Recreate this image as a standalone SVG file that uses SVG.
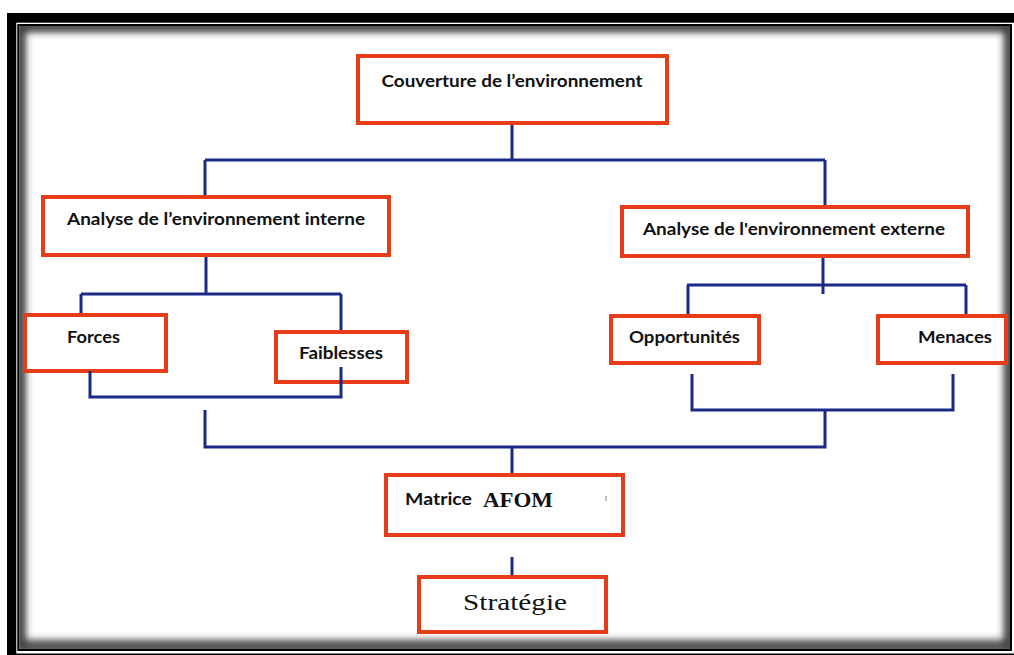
<svg xmlns="http://www.w3.org/2000/svg" width="1014" height="655" viewBox="0 0 1014 655">
  <defs>
    <style>
      .box { fill: #ffffff; stroke: #e63c17; stroke-width: 4; }
      .lbl { font-family: Lato, "Liberation Sans", "DejaVu Sans", sans-serif; font-weight: 700; font-size: 17px; fill: #111111; }
      .ser { font-family: "Liberation Serif", "DejaVu Serif", serif; fill: #111111; }
      .con { fill: none; stroke: #1b2a87; stroke-width: 3; stroke-linejoin: miter; stroke-linecap: butt; }
    </style>
    <clipPath id="inner">
      <rect x="19.5" y="26" width="990.5" height="623"/>
    </clipPath>
    <filter id="blur" x="-5%" y="-5%" width="110%" height="110%">
      <feGaussianBlur stdDeviation="4"/>
    </filter>
  </defs>

  <!-- frame -->
  <g id="frame">
    <rect x="0" y="0" width="1014" height="655" fill="#ffffff"/>
    <rect x="7" y="13" width="1020" height="660" fill="#000000"/>
    <rect x="16.3" y="22.7" width="1000" height="630.8" fill="#ffffff"/>
    <g clip-path="url(#inner)">
      <rect x="19.5" y="26" width="990.5" height="623" fill="#ffffff"/>
      <rect x="19.5" y="26" width="990.5" height="619" fill="none" stroke="#3a3a3a" stroke-width="8" filter="url(#blur)"/>
      <rect x="19.5" y="26" width="990.5" height="623" fill="none" stroke="#3a3a3a" stroke-width="8" filter="url(#blur)"/>
    </g>
    <rect x="18.3" y="25" width="992.7" height="625" fill="none" stroke="#000000" stroke-width="2"/>
  </g>

  <!-- connectors -->
  <g id="connectors">
    <path class="con" d="M512,123 V160 M205,160 H825 M205,160 V197 M825,160 V207"/>
    <path class="con" d="M206,255 V294 M81,294 H341 M81,294 V315 M341,294 V332"/>
    <path class="con" d="M823,256 V294 M687,285 H966 M688,285 V316 M966,285 V316"/>
    <path class="con" d="M205,410 V447 H825 V410 M512,447 V475"/>
    <path class="con" d="M512,557 V577"/>
  </g>

  <!-- nodes -->
  <g id="node-couverture">
    <rect class="box" x="358" y="56" width="309" height="67"/>
    <text class="lbl" x="512" y="87" text-anchor="middle" textLength="261" lengthAdjust="spacingAndGlyphs">Couverture de l’environnement</text>
  </g>

  <g id="node-interne">
    <rect class="box" x="43" y="197" width="346" height="58"/>
    <text class="lbl" x="216" y="225" text-anchor="middle" textLength="298" lengthAdjust="spacingAndGlyphs">Analyse de l’environnement interne</text>
  </g>

  <g id="node-externe">
    <rect class="box" x="622" y="207" width="346" height="49"/>
    <text class="lbl" x="794" y="235" text-anchor="middle" textLength="302" lengthAdjust="spacingAndGlyphs">Analyse de l'environnement externe</text>
  </g>

  <g id="node-forces">
    <rect class="box" x="25" y="315" width="141" height="56"/>
    <text class="lbl" x="67" y="343" textLength="53" lengthAdjust="spacingAndGlyphs">Forces</text>
  </g>

  <g id="node-faiblesses">
    <rect class="box" x="276" y="332" width="131" height="50"/>
    <text class="lbl" x="299" y="359" textLength="84" lengthAdjust="spacingAndGlyphs">Faiblesses</text>
  </g>

  <g id="node-opportunites">
    <rect class="box" x="611" y="316" width="148" height="47"/>
    <text class="lbl" x="629" y="343" textLength="111" lengthAdjust="spacingAndGlyphs">Opportunités</text>
  </g>

  <g id="node-menaces">
    <rect class="box" x="878" y="316" width="128" height="47"/>
    <text class="lbl" x="918" y="343" textLength="74" lengthAdjust="spacingAndGlyphs">Menaces</text>
  </g>

  <!-- connectors drawn over boxes (Forces/Faiblesses, Opportunités/Menaces bottom) -->
  <g id="connectors-over">
    <path class="con" d="M90,371 V397 H341 V367"/>
    <path class="con" d="M692,374 V410 H953 V374"/>
  </g>

  <g id="node-matrice">
    <rect class="box" x="386" y="475" width="237" height="60"/>
    <text class="lbl" x="405" y="505" textLength="67" lengthAdjust="spacingAndGlyphs">Matrice</text>
    <text class="ser" x="483" y="507" font-size="22" font-weight="700" textLength="70" lengthAdjust="spacingAndGlyphs">AFOM</text>
    <line x1="606" y1="496" x2="606" y2="501" stroke="#b0b0b0" stroke-width="1.5"/>
  </g>

  <g id="node-strategie">
    <rect class="box" x="419" y="577" width="187" height="55"/>
    <text class="ser" x="463" y="610" font-size="23" textLength="104" lengthAdjust="spacingAndGlyphs">Stratégie</text>
  </g>
</svg>
